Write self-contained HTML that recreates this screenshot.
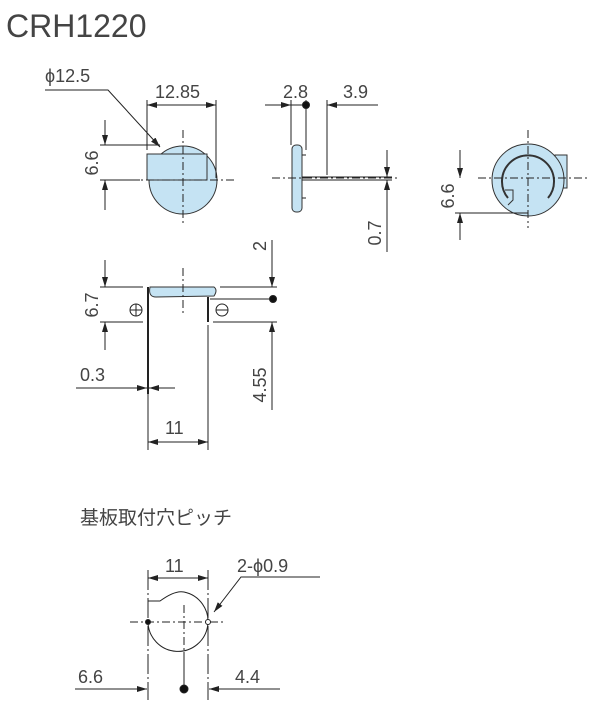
<!DOCTYPE html><html><head><style>body{margin:0;background:#fff}svg{display:block}text{font-family:"Liberation Sans","Noto Sans CJK JP",sans-serif;fill:#444}</style></head><body>
<svg width="600" height="709" viewBox="0 0 600 709" xmlns="http://www.w3.org/2000/svg">
<defs><marker id="a" markerWidth="10" markerHeight="6" refX="10" refY="3" orient="auto-start-reverse" markerUnits="userSpaceOnUse"><path d="M0,0L10,3L0,6z" fill="#222"/></marker></defs>
<text x="6" y="37" font-size="32" fill="#333">CRH1220</text>
<g stroke="#222" stroke-width="1" fill="none">
<circle cx="183" cy="180" r="34" fill="#c5e3f3" stroke="#333"/>
<rect x="147" y="154" width="60" height="26" fill="#c5e3f3" stroke="#333"/>
<line x1="183" y1="130" x2="183" y2="225" stroke-dasharray="8,3,2,3"/>
<line x1="130" y1="180" x2="235" y2="180" stroke-dasharray="8,3,2,3"/>
<line x1="147" y1="100" x2="147" y2="150"/><line x1="216" y1="100" x2="216" y2="178"/>
<line x1="147" y1="105" x2="216" y2="105" marker-start="url(#a)" marker-end="url(#a)"/>
<line x1="100" y1="145" x2="160" y2="145"/><line x1="100" y1="180" x2="140" y2="180"/>
<line x1="105" y1="120" x2="105" y2="145" marker-end="url(#a)"/><line x1="105" y1="210" x2="105" y2="180" marker-end="url(#a)"/>
<polyline points="45,90 108,90 160,147" marker-end="url(#a)"/>
<rect x="292" y="145" width="10" height="67" rx="4" fill="#c5e3f3" stroke="#333"/>
<line x1="302" y1="155" x2="306" y2="155"/><line x1="302" y1="178" x2="306" y2="178"/><line x1="302" y1="198" x2="306" y2="198"/>
<line x1="302" y1="177" x2="392" y2="177"/><line x1="302" y1="180" x2="392" y2="180"/>
<line x1="272" y1="178" x2="400" y2="178" stroke-dasharray="8,3,2,3"/>
<line x1="291" y1="100" x2="291" y2="145"/><line x1="306" y1="100" x2="306" y2="150"/><line x1="327" y1="100" x2="327" y2="175"/>
<line x1="265" y1="105" x2="291" y2="105" marker-end="url(#a)"/><line x1="291" y1="105" x2="306" y2="105"/>
<line x1="378" y1="105" x2="327" y2="105" marker-end="url(#a)"/>
<circle cx="306" cy="105" r="3.5" fill="#111"/>
<line x1="387" y1="150" x2="387" y2="177" marker-end="url(#a)"/><line x1="387" y1="252" x2="387" y2="180" marker-end="url(#a)"/>
<rect x="555" y="155" width="12" height="33" fill="#c5e3f3" stroke="#333"/>
<circle cx="528" cy="180" r="36" fill="#c5e3f3" stroke="#333"/>
<path d="M508,198 A26,26 0 1 1 548,198" stroke="#333" stroke-width="2"/>
<path d="M505,190 L513,190 L513,200 L508,205" stroke="#333"/>
<line x1="528" y1="130" x2="528" y2="228" stroke-dasharray="8,3,2,3"/>
<line x1="478" y1="178" x2="590" y2="178" stroke-dasharray="8,3,2,3"/>
<line x1="455" y1="213" x2="528" y2="213"/>
<line x1="460" y1="150" x2="460" y2="178" marker-end="url(#a)"/><line x1="460" y1="240" x2="460" y2="213" marker-end="url(#a)"/>
<path d="M150,287 L214,287 Q218,290 214,296 L156,297 Q148,297 150,287z" fill="#c5e3f3" stroke="#333"/>
<line x1="148" y1="287" x2="148" y2="394" stroke-width="2"/><line x1="208" y1="297" x2="208" y2="322" stroke-width="2"/>
<line x1="148" y1="322" x2="148" y2="450"/><line x1="208" y1="325" x2="208" y2="450"/>
<line x1="183" y1="268" x2="183" y2="315" stroke-dasharray="8,3,2,3"/>
<line x1="100" y1="287" x2="143" y2="287"/><line x1="100" y1="322" x2="143" y2="322"/>
<line x1="105" y1="260" x2="105" y2="287" marker-end="url(#a)"/><line x1="105" y1="350" x2="105" y2="322" marker-end="url(#a)"/>
<line x1="220" y1="287" x2="277" y2="287"/><line x1="210" y1="299" x2="273" y2="299"/><line x1="213" y1="322" x2="277" y2="322"/>
<line x1="272" y1="240" x2="272" y2="287" marker-end="url(#a)"/><line x1="272" y1="410" x2="272" y2="322" marker-end="url(#a)"/>
<circle cx="273" cy="299" r="3.5" fill="#111"/>
<circle cx="136" cy="310" r="6"/><line x1="130" y1="310" x2="142" y2="310"/><line x1="136" y1="304" x2="136" y2="316"/>
<circle cx="222" cy="310" r="6"/><line x1="216" y1="310" x2="228" y2="310"/>
<line x1="76" y1="388" x2="147" y2="388" marker-end="url(#a)"/><line x1="175" y1="388" x2="149" y2="388" marker-end="url(#a)"/>
<line x1="148" y1="442" x2="208" y2="442" marker-start="url(#a)" marker-end="url(#a)"/>
<path d="M148,601 L160,601 Q175,590 184,592 A30,30 0 1 1 148,622"/>
<line x1="148" y1="601" x2="148" y2="612"/>
<line x1="130" y1="622" x2="225" y2="622" stroke-dasharray="8,3,2,3"/>
<line x1="184" y1="605" x2="184" y2="652" stroke-dasharray="8,3,2,3"/>
<line x1="184" y1="652" x2="184" y2="689"/>
<line x1="148" y1="570" x2="148" y2="700" stroke-dasharray="20,3,2,3"/><line x1="208" y1="570" x2="208" y2="700" stroke-dasharray="20,3,2,3"/>
<line x1="148" y1="578" x2="208" y2="578" marker-start="url(#a)" marker-end="url(#a)"/>
<line x1="75" y1="689" x2="147" y2="689" marker-end="url(#a)"/><line x1="280" y1="689" x2="209" y2="689" marker-end="url(#a)"/>
<circle cx="184" cy="689" r="4" fill="#111"/>
<circle cx="148" cy="622" r="2.5" fill="#111"/><circle cx="208" cy="622" r="2.5" fill="#fff"/>
<polyline points="320,577 241,577 214,612" marker-end="url(#a)"/>
</g>
<g font-size="18">
<text x="45" y="82">ϕ12.5</text>
<text x="155" y="98">12.85</text>
<text transform="translate(98,163) rotate(-90)" text-anchor="middle">6.6</text>
<text x="283" y="98">2.8</text>
<text x="343" y="98">3.9</text>
<text transform="translate(381,233) rotate(-90)" text-anchor="middle">0.7</text>
<text transform="translate(454,196) rotate(-90)" text-anchor="middle">6.6</text>
<text transform="translate(98,305) rotate(-90)" text-anchor="middle">6.7</text>
<text transform="translate(266,246) rotate(-90)" text-anchor="middle">2</text>
<text transform="translate(266,385) rotate(-90)" text-anchor="middle">4.55</text>
<text x="80" y="381">0.3</text>
<text x="165" y="434">11</text>
<text x="80" y="524" font-size="19">基板取付穴ピッチ</text>
<text x="165" y="572">11</text>
<text x="237" y="572">2-ϕ0.9</text>
<text x="78" y="683">6.6</text>
<text x="235" y="683">4.4</text>
</g>
</svg></body></html>
